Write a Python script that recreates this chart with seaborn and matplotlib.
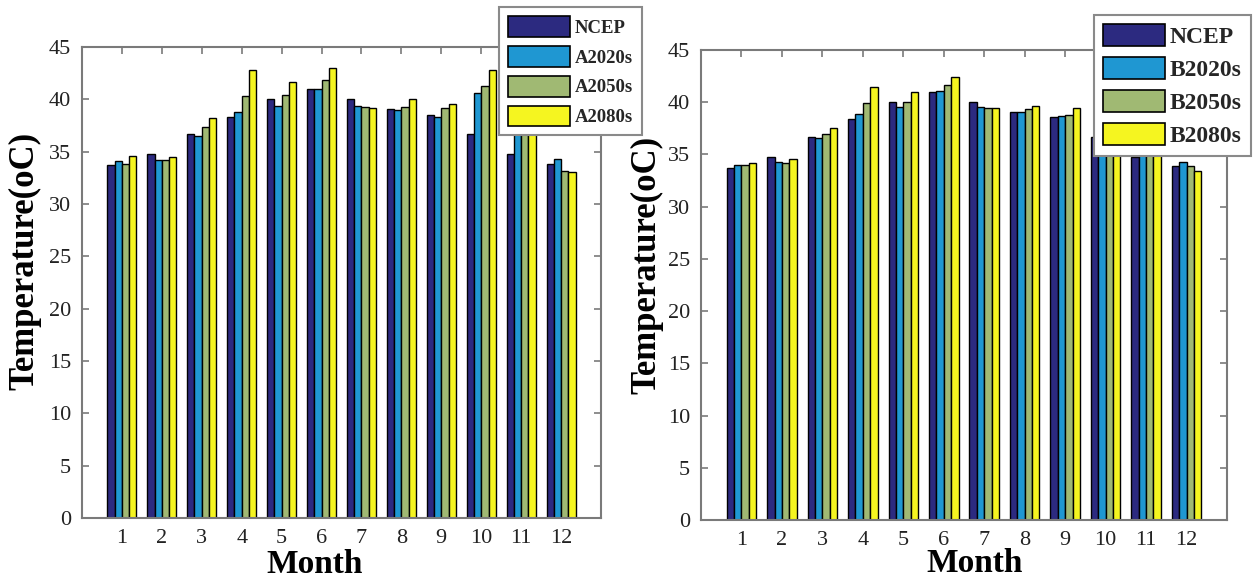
import matplotlib
matplotlib.use("Agg")
import matplotlib.pyplot as plt
import seaborn as sns
import pandas as pd

# ---------------- data ----------------
months = ["1", "2", "3", "4", "5", "6", "7", "8", "9", "10", "11", "12"]

ncep = [33.7, 34.75, 36.7, 38.35, 40.0, 41.0, 40.0, 39.05, 38.55, 36.7, 34.75, 33.85]

a2020s = [34.1, 34.25, 36.5, 38.8, 39.4, 41.0, 39.4, 39.0, 38.3, 40.6, 36.8, 34.3]
a2050s = [33.85, 34.25, 37.35, 40.35, 40.4, 41.8, 39.25, 39.3, 39.2, 41.25, 37.6, 33.2]
a2080s = [34.6, 34.45, 38.2, 42.85, 41.7, 42.95, 39.2, 40.0, 39.55, 42.85, 38.6, 33.1]

b2020s = [34.03, 34.3, 36.6, 38.88, 39.55, 41.04, 39.5, 39.1, 38.7, 38.5, 36.0, 34.26]
b2050s = [34.03, 34.2, 36.97, 39.93, 40.06, 41.68, 39.4, 39.37, 38.8, 39.3, 36.6, 33.94]
b2080s = [34.2, 34.6, 37.54, 41.49, 40.98, 42.38, 39.4, 39.68, 39.43, 40.5, 37.2, 33.46]

series_a = ["NCEP", "A2020s", "A2050s", "A2080s"]
series_b = ["NCEP", "B2020s", "B2050s", "B2080s"]
yticks = [0, 5, 10, 15, 20, 25, 30, 35, 40, 45]

colors = ["#2c2a80", "#1f97d2", "#a0b973", "#f5f520"]


def long_df(names, arrays):
    rows = []
    for name, arr in zip(names, arrays):
        for m, v in zip(months, arr):
            rows.append({"Month": m, "Temp": v, "Series": name})
    return pd.DataFrame(rows)


df_a = long_df(series_a, [ncep, a2020s, a2050s, a2080s])
df_b = long_df(series_b, [ncep, b2020s, b2050s, b2080s])

sns.set_theme(style="white")
plt.rcParams["font.family"] = ["Liberation Serif", "DejaVu Serif"]

fig = plt.figure(figsize=(12.57, 5.79), dpi=100)
ax_a = fig.add_axes([82 / 1257, 1 - 518 / 579, 519 / 1257, 471 / 579])
ax_b = fig.add_axes([701 / 1257, 1 - 520 / 579, 526 / 1257, 470 / 579])

spine_col = "#7a7a7a"

# (axes, data, names, ylabel pos, xlabel pos, legend anchor, legend font size)
panels = [
    (ax_a, df_a, series_a, (-0.078, 0.546), (0.449, -0.065), (499 / 1257, 1 - 7 / 579), 13.5),
    (ax_b, df_b, series_b, (-0.072, 0.543), (0.52, -0.06), (1094 / 1257, 1 - 15 / 579), 17),
]

for ax, df, names, ylab_xy, xlab_xy, leg_xy, lfs in panels:
    sns.barplot(data=df, x="Month", y="Temp", hue="Series", order=months,
                hue_order=names, palette=colors, saturation=1, width=0.73,
                edgecolor="black", linewidth=1.0, ax=ax, errorbar=None)
    ax.set_xlim(-1, 12)
    ax.set_ylim(0, 45)
    ax.set_yticks(yticks)
    ax.set_yticklabels([str(t) for t in yticks])
    for s in ax.spines.values():
        s.set_visible(True)
        s.set_color(spine_col)
        s.set_linewidth(1.5)
    ax.tick_params(axis="both", which="major", direction="in", length=5,
                   width=1.2, color=spine_col, labelsize=16, labelcolor="#222222",
                   top=True, right=True, bottom=True, left=True)
    ax.tick_params(axis="y", pad=8)
    ax.tick_params(axis="x", pad=8)

    ax.set_ylabel("Temperature(oC)", fontsize=25, fontweight="bold", color="black")
    ax.set_xlabel("Month", fontsize=24, fontweight="bold", color="black")
    ax.yaxis.set_label_coords(*ylab_xy)
    ax.xaxis.set_label_coords(*xlab_xy)

    px = lfs * 100 / 72.0
    handles, labels = ax.get_legend_handles_labels()
    ax.get_legend().remove()
    leg = ax.legend(handles, labels, loc="upper left", bbox_to_anchor=leg_xy,
                    bbox_transform=fig.transFigure, frameon=True, fancybox=False,
                    prop={"family": "Liberation Serif", "weight": "bold", "size": lfs},
                    handlelength=62 / px, handleheight=25 / px,
                    labelspacing=9 / px, handletextpad=5 / px,
                    borderpad=9 / px, borderaxespad=0)
    leg.get_frame().set_edgecolor("#8a8a8a")
    leg.get_frame().set_linewidth(1.5)
    leg.get_frame().set_alpha(1)
    for h in leg.legend_handles:
        h.set_edgecolor("black")
        h.set_linewidth(1.2)
    leg.set_zorder(10)

fig.savefig("out.png", dpi=100)
